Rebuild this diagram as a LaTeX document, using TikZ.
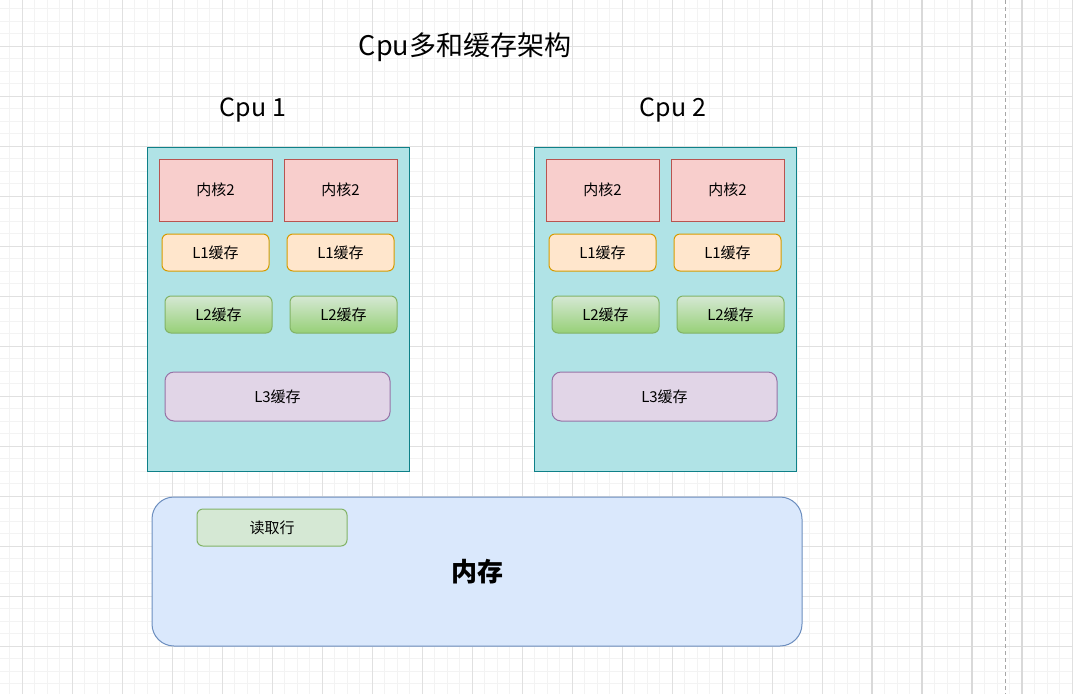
\documentclass[tikz,border=0pt]{standalone}
\usepackage{fontspec}
\setmainfont{Noto Sans CJK SC}
\definecolor{gridminor}{HTML}{F3F3F3}
\definecolor{gridmajor}{HTML}{E0E0E0}
\definecolor{cpufill}{HTML}{B0E3E6}
\definecolor{cpuline}{HTML}{0E8088}
\definecolor{corefill}{HTML}{F8CECC}
\definecolor{coreline}{HTML}{B85450}
\definecolor{lonefill}{HTML}{FFE6CC}
\definecolor{loneline}{HTML}{D79B00}
\definecolor{ltwotop}{HTML}{D5E8D4}
\definecolor{ltwobot}{HTML}{97D077}
\definecolor{greenline}{HTML}{82B366}
\definecolor{lthreefill}{HTML}{E1D5E7}
\definecolor{lthreeline}{HTML}{9673A6}
\definecolor{memfill}{HTML}{DAE8FC}
\definecolor{memline}{HTML}{6C8EBF}
\tikzset{
  box/.style={inner sep=0pt, line width=1pt, text=black},
  cpubox/.style={box, draw=cpuline, fill=cpufill, minimum width=262, minimum height=324},
  corebox/.style={box, draw=coreline, fill=corefill, minimum width=113, minimum height=62},
  lonebox/.style={box, draw=loneline, fill=lonefill, rounded corners=6pt, minimum width=107, minimum height=37},
  ltwobox/.style={box, draw=greenline, top color=ltwotop, bottom color=ltwobot, rounded corners=6pt, minimum width=107, minimum height=37},
  lthreebox/.style={box, draw=lthreeline, fill=lthreefill, rounded corners=9pt, minimum width=225, minimum height=49},
  membox/.style={box, draw=memline, fill=memfill, rounded corners=22pt, minimum width=650, minimum height=149},
  readbox/.style={box, draw=greenline, fill=ltwotop, rounded corners=6pt, minimum width=150, minimum height=37},
}
\begin{document}
\begin{tikzpicture}[x=1pt, y=-1pt, font=\fontsize{15}{18}\selectfont]
  \useasboundingbox (0,0) rectangle (1073,694);
  \fill[white] (0,0) rectangle (1073,694);
  % grid
  \foreach \x in {9.5,22,...,1073}
    \draw[gridminor, line width=1pt] (\x,0) -- (\x,694);
  \foreach \y in {8.5,21,...,694}
    \draw[gridminor, line width=1pt] (0,\y) -- (1073,\y);
  \foreach \x in {22,72,...,1073}
    \draw[gridmajor, line width=1pt] (\x,0) -- (\x,694);
  \foreach \y in {46,96,...,694}
    \draw[gridmajor, line width=1pt] (0,\y) -- (1073,\y);
  \foreach \x in {872,922,972,1022}
    \draw[black!15, line width=1.6pt] (\x,0) -- (\x,694);
  \draw[black!35, line width=1pt, dash pattern=on 4pt off 3pt] (1005.5,0) -- (1005.5,694);

  \node[font=\fontsize{27}{32}\selectfont] (title) at (465,47) {Cpu多和缓存架构};

  % two cpus, the second one shifted 387px to the right
  \foreach \c/\ox/\lx in {1/0/253, 2/387/673} {
    \node[font=\fontsize{25}{30}\selectfont] (cpu\c label) at (\lx,110) {Cpu \c};
    \node[cpubox] (cpu\c) at (278+\ox,309) {};
    \node[corebox] (core\c a) at (215.5+\ox,190) {内核2};
    \node[corebox] (core\c b) at (340.5+\ox,190) {内核2};
    \node[lonebox] (lone\c a) at (215.5+\ox,252.5) {L1缓存};
    \node[lonebox] (lone\c b) at (340.5+\ox,252.5) {L1缓存};
    \node[ltwobox] (ltwo\c a) at (218.5+\ox,314.5) {L2缓存};
    \node[ltwobox] (ltwo\c b) at (343.5+\ox,314.5) {L2缓存};
    \node[lthreebox] (lthree\c) at (277.5+\ox,396.5) {L3缓存};
  }

  \node[membox, font=\fontsize{26}{30}\selectfont\bfseries] (mem) at (477,571.5) {内存};
  \node[readbox] (readline) at (272,527.5) {读取行};
\end{tikzpicture}
\end{document}
